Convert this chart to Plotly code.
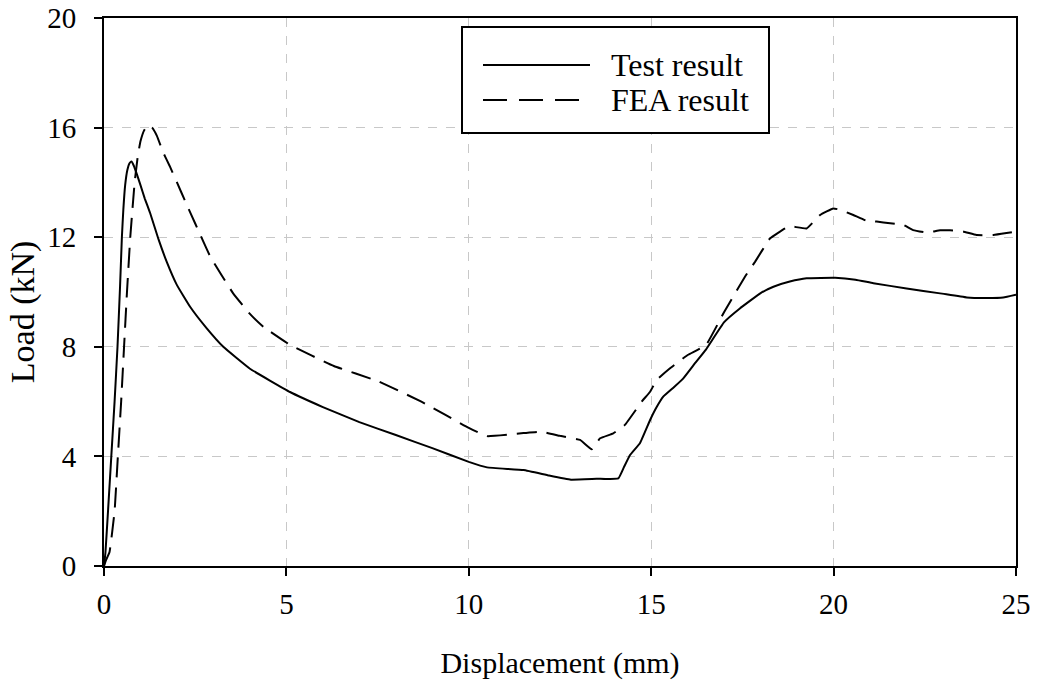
import plotly.graph_objects as go

# Test result (solid)
test_x = [0.0, 0.04, 0.11, 0.2, 0.29, 0.37, 0.44, 0.49, 0.53, 0.58, 0.64, 0.7, 0.75, 0.82, 0.9, 1.0, 1.12, 1.26, 1.5,
          1.72, 2.0, 2.36, 2.8, 3.27, 4.0, 5.1, 6.0, 7.0, 8.0, 9.0, 10.0, 10.5, 11.5, 12.2, 12.8, 13.5, 14.1, 14.25,
          14.42, 14.69, 14.97, 15.15, 15.33, 15.6, 15.88, 16.2, 16.5, 17.0, 17.43, 18.0, 18.35, 18.8, 19.26, 20.04, 20.6,
          21.09, 22.0, 22.92, 23.65, 24.2, 24.65, 25.0]
test_y = [0.0, 0.5, 2.0, 4.0, 6.0, 8.0, 10.2, 12.0, 13.0, 13.9, 14.45, 14.7, 14.76, 14.6, 14.3, 13.9, 13.4, 12.9, 11.9,
          11.1, 10.25, 9.46, 8.7, 8.0, 7.2, 6.35, 5.8, 5.25, 4.78, 4.3, 3.8, 3.6, 3.5, 3.3, 3.15, 3.18, 3.2,
          3.6, 4.05, 4.48, 5.33, 5.8, 6.18, 6.5, 6.85, 7.4, 7.9, 8.9, 9.4, 9.96, 10.19, 10.38, 10.5, 10.52, 10.45, 10.32,
          10.13, 9.95, 9.8, 9.78, 9.8, 9.9]

# FEA result (dashed)
fea_x = [0.0, 0.05, 0.15, 0.29, 0.38, 0.47, 0.55, 0.63, 0.72, 0.84, 0.93, 1.0, 1.1, 1.21, 1.32, 1.45, 1.62, 1.8, 2.0,
         2.23, 2.5, 2.91, 3.54, 4.0, 4.37, 5.1, 6.3, 7.5, 8.7, 10.0, 10.5, 11.5, 12.0, 12.5, 13.05, 13.37, 13.6, 13.96,
         14.28, 14.74, 14.97, 15.15, 15.5, 16.0, 16.5, 17.0, 17.57, 17.85, 18.26, 18.67, 18.8, 19.26, 19.63, 19.99, 20.18,
         20.54, 20.9, 21.18, 21.55, 21.91, 22.18, 22.55, 22.92, 23.19, 23.55, 23.92, 24.38, 24.74, 25.0]
fea_y = [0.0, 0.2, 0.5, 2.0, 4.0, 6.0, 8.0, 10.0, 12.0, 14.0, 15.0, 15.5, 15.9, 16.1, 16.0, 15.7, 15.1, 14.6, 14.0,
         13.3, 12.5, 11.3, 9.95, 9.2, 8.73, 8.07, 7.3, 6.75, 6.0, 5.04, 4.74, 4.85, 4.9, 4.75, 4.6, 4.26, 4.66, 4.84,
         5.15, 6.0, 6.36, 6.79, 7.2, 7.7, 8.06, 9.27, 10.56, 11.11, 11.96, 12.32, 12.4, 12.32, 12.81, 13.05, 13.0,
         12.81, 12.6, 12.57, 12.51, 12.45, 12.26, 12.17, 12.25, 12.25, 12.21, 12.08, 12.08, 12.15, 12.21]

x_ticks = [0, 5, 10, 15, 20, 25]
y_ticks = [0, 4, 8, 12, 16, 20]
series_names = ["Test result", "FEA result"]
x_title = "Displacement (mm)"
y_title = "Load (kN)"

FONT = "Liberation Serif"
SOLID = dict(color="black", width=2)
DASHED = dict(color="black", width=2, dash="20px,10px")

fig = go.Figure()
fig.add_trace(go.Scatter(x=test_x, y=test_y, mode="lines", name=series_names[0],
                         line=dict(**SOLID, shape="spline", smoothing=0.3), showlegend=False))
fig.add_trace(go.Scatter(x=fea_x, y=fea_y, mode="lines", name=series_names[1],
                         line=dict(**DASHED, shape="spline", smoothing=0.3), showlegend=False))

axis_common = dict(
    showline=True, linecolor="black", linewidth=2, mirror=True,
    ticks="outside", ticklen=8, tickwidth=2, tickcolor="black",
    showgrid=True, gridcolor="#c8c8c8", gridwidth=1, griddash="dash",
    zeroline=False, automargin=False,
    tickfont=dict(family=FONT, size=29, color="black"),
)

fig.update_xaxes(range=[0, 25], tickvals=x_ticks, ticktext=[str(v) for v in x_ticks],
                 title=dict(text=x_title, font=dict(family=FONT, size=30, color="black"), standoff=33),
                 ticklabelstandoff=3, **axis_common)
fig.update_yaxes(range=[0, 20], tickvals=y_ticks, ticktext=[str(v) for v in y_ticks],
                 ticklabelstandoff=12, **axis_common)

# y-axis title
fig.add_annotation(text=y_title, textangle=-90, xref="paper", yref="paper",
                   x=-0.0886, y=0.4635, xanchor="center", yanchor="middle", showarrow=False,
                   font=dict(family=FONT, size=34, color="black"))

# legend box drawn in the upper middle of the plot
px0, px1, py0, py1 = 104, 1016, 566, 18
def pxx(p):
    return (p - px0) / (px1 - px0)
def pyy(p):
    return (py0 - p) / (py0 - py1)

fig.add_shape(type="rect", xref="paper", yref="paper", x0=pxx(462), x1=pxx(769), y0=pyy(133), y1=pyy(27),
              line=dict(color="black", width=2), fillcolor="white", layer="above")
for name, style, row in [(series_names[0], SOLID, 65), (series_names[1], DASHED, 100)]:
    fig.add_shape(type="line", xref="paper", yref="paper", x0=pxx(483), x1=pxx(590), y0=pyy(row), y1=pyy(row),
                  line=dict(color="black", width=2, dash="24px,12px" if "dash" in style else "solid"), layer="above")
    fig.add_annotation(text=name, xref="paper", yref="paper", x=pxx(609), y=pyy(row), xanchor="left",
                       yanchor="middle", showarrow=False, font=dict(family=FONT, size=32, color="black"))

fig.update_layout(
    width=1041, height=688,
    margin=dict(l=104, r=25, t=18, b=122),
    plot_bgcolor="white", paper_bgcolor="white",
    font=dict(family=FONT, color="black"),
    showlegend=False,
)

fig.write_html("out.html")
